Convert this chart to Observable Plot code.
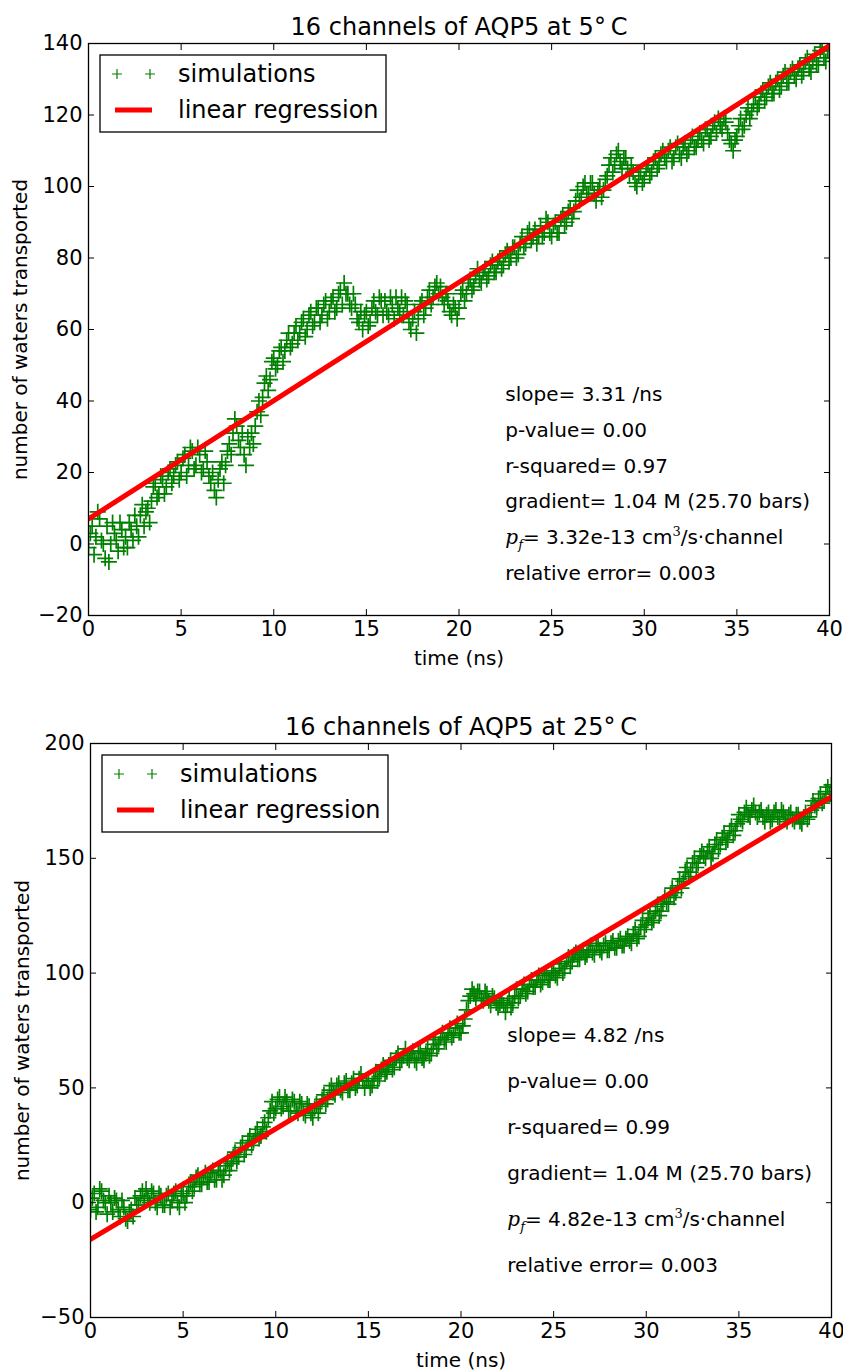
<!DOCTYPE html>
<html><head><meta charset="utf-8">
<script src="https://cdn.jsdelivr.net/npm/d3@7"></script>
<script src="https://cdn.jsdelivr.net/npm/@observablehq/plot@0.6"></script>
<style>
body{margin:0;background:#fff;width:843px;}
svg{display:block;}
</style></head><body><div id="c"></div>
<script>
// ---------- data ----------
const timeStep = 0.1; // ns between recorded samples
const sim5C = [
 -1,3,5,-3,2,9,7,1,0,-4, 5,-5,0,6,3,1,-2,6,4,-1, 2,-1,6,4,1,8,5,2,8,11, 5,9,10,6,12,16,17,13,14,19,
 18,14,16,20,21,17,19,22,23,18, 20,24,25,19,22,27,26,21,22,27, 25,20,21,26,23,19,17,20,15,13, 18,21,23,17,22,26,28,25,31,35,
 33,29,27,31,25,22,30,27,31,28, 33,37,40,36,41,45,47,43,46,51, 52,49,50,54,55,51,54,57,59,55, 56,59,61,57,59,62,63,58,60,64,
 65,61,62,66,66,62,64,67,68,63, 65,68,69,65,66,70,71,67,73,70, 70,67,66,70,67,63,62,65,60,64, 65,61,62,66,68,65,64,69,68,64,
 68,65,64,69,67,63,69,66,65,69, 64,68,67,62,60,63,65,59,63,67, 68,64,66,69,71,67,69,72,73,70, 72,69,67,70,68,65,64,67,66,63,
 66,70,71,68,70,73,74,71,72,75, 77,74,73,76,77,74,75,78,79,76, 76,79,80,77,78,81,82,79,80,83, 83,80,81,84,86,83,84,87,88,85,
 86,88,84,86,89,86,87,91,90,87, 86,89,90,87,87,91,92,89,90,93, 94,91,93,96,99,96,97,100,101,98, 98,101,101,98,96,99,100,97,99,102,
 103,106,108,104,106,109,110,107,105,108, 108,105,103,106,104,101,100,103,104,101, 102,105,106,103,104,107,108,105,106,109, 110,108,107,110,111,107,108,111,112,109,
 108,111,112,109,110,113,114,111,111,113, 115,113,112,116,116,113,114,117,118,115, 119,117,116,119,118,115,113,112,110,113, 114,117,119,116,117,120,122,119,121,123,
 125,122,123,126,127,124,125,128,129,126, 126,129,130,127,128,131,132,129,129,132, 133,131,130,133,134,131,132,135,136,133, 132,135,137,134,134,138,139,136,135,138,
 138
];
const sim25C = [
 -3,2,4,-4,-2,6,5,1,0,-5, 3,0,-4,2,1,-3,-6,1,-2,-7, -8,-4,-3,-6,2,-1,-1,3,5,1, 6,2,0,5,4,0,-2,4,3,-1,
 -1,3,4,-2,1,4,5,0,-2,3, 4,0,3,7,9,5,7,11,12,8, 8,11,13,9,9,13,14,10,10,14, 14,10,12,16,18,14,17,20,22,18,
 20,24,26,21,23,27,29,25,27,30, 32,28,29,33,35,31,37,40,44,39, 41,45,46,41,42,46,44,40,40,45, 44,40,39,44,43,39,38,43,42,39,
 37,41,43,39,42,45,47,43,45,49, 51,48,47,51,52,49,48,52,53,49, 49,52,54,50,51,54,56,53,50,53, 53,50,51,54,57,53,55,58,60,56,
 57,60,62,58,59,63,65,61,62,64, 67,63,62,65,66,62,61,65,66,63, 62,65,67,64,65,69,71,67,69,72, 74,71,70,74,76,72,73,76,78,74,
 74,77,80,84,88,90,93,91,89,92, 92,89,88,92,91,88,86,90,89,87, 85,87,88,86,83,86,89,85,87,90, 93,89,90,93,95,91,92,95,97,94,
 94,97,99,95,96,99,100,97,97,100, 101,99,98,102,104,100,102,105,107,103, 105,108,109,106,106,109,110,107,108,110, 112,109,108,112,113,110,109,112,113,110,
 110,113,114,111,111,114,115,112,112,115, 116,114,113,117,119,115,116,120,123,119, 121,124,126,122,123,127,129,125,127,130, 133,131,130,134,137,133,135,138,141,137,
 140,144,146,142,144,148,150,146,148,151, 153,151,150,153,155,150,152,156,158,154, 156,159,161,157,158,162,164,160,162,165, 169,167,166,170,172,169,168,171,173,170,
 168,170,171,168,166,169,170,166,167,170, 171,168,167,171,170,167,166,169,170,167, 166,169,169,166,165,168,170,167,168,171, 175,173,172,176,178,174,175,179,181,178,
 182
];
const regX = [0, 40];
const reg5C = [7.0, 139.4];
const reg25C = [-16.0, 176.8];
const titles = ["16 channels of AQP5 at 5°\u2009C", "16 channels of AQP5 at 25°\u2009C"];
const xLabel = "time (ns)";
const yLabel = "number of waters transported";
const legendLabels = ["simulations", "linear regression"];
const stats5C = ["slope= 3.31 /ns", "p-value= 0.00", "r-squared= 0.97", "gradient= 1.04 M (25.70 bars)", "pf= 3.32e-13 cm3/s·channel", "relative error= 0.003"];
const stats25C = ["slope= 4.82 /ns", "p-value= 0.00", "r-squared= 0.99", "gradient= 1.04 M (25.70 bars)", "pf= 4.82e-13 cm3/s·channel", "relative error= 0.003"];
const statsY5C = [40, 30, 20, 10, 0, -10];
const statsY25C = [70, 50, 30, 10, -10, -30];
const statsX = 22.5;
const xTicks = [0, 5, 10, 15, 20, 25, 30, 35, 40];
const yTicks5C = [-20, 0, 20, 40, 60, 80, 100, 120, 140];
const yTicks25C = [-50, 0, 50, 100, 150, 200];

// ---------- drawing ----------
const GREEN = "#008000", RED = "#ff0000";
const plusSymbol = {draw(ctx, size) {
  const r = Math.sqrt(size / Math.PI);
  ctx.moveTo(-r, 0); ctx.lineTo(r, 0); ctx.moveTo(0, -r); ctx.lineTo(0, r);
}};

function panel(o) {
  const data = o.series.map((v, i) => ({t: i * timeStep, n: v}));
  const svg = Plot.plot({
    width: 843, height: o.height,
    marginTop: o.mt, marginBottom: o.mb, marginLeft: o.ml, marginRight: o.mr,
    style: {fontFamily: "DejaVu Sans", fontSize: "20px", background: "white", color: "black", overflow: "visible"},
    x: {domain: [0, 40]},
    y: {domain: o.yDomain},
    marks: [
      Plot.dot(data, {x: "t", y: "n", symbol: plusSymbol, r: 8, stroke: GREEN, fill: "none", strokeWidth: 1.7, clip: true}),
      Plot.line(regX, {x: d => d, y: (d, i) => o.reg[i], stroke: RED, strokeWidth: 5, clip: true}),
      Plot.axisX({anchor: "bottom", ticks: xTicks, tickSize: -6, tickPadding: 12, label: null, fontSize: 21}),
      Plot.axisX({anchor: "top", ticks: xTicks, tickSize: -6, tickFormat: () => "", label: null}),
      Plot.axisY({anchor: "left", ticks: o.yTicks, tickSize: -6, tickPadding: 12, label: null, fontSize: 21}),
      Plot.axisY({anchor: "right", ticks: o.yTicks, tickSize: -6, tickFormat: () => "", label: null}),
      Plot.frame({stroke: "black", strokeWidth: 1.3}),
      Plot.text(o.stats, {x: statsX, y: (d, i) => o.statsY[i], text: d => d, textAnchor: "start", lineAnchor: "bottom", fontSize: 20}),
      Plot.text([o.title], {frameAnchor: "top", dy: -9, lineAnchor: "bottom", textAnchor: "middle", text: d => d, fontSize: 24}),
      Plot.text([xLabel], {frameAnchor: "bottom", dy: 43, lineAnchor: "middle", textAnchor: "middle", text: d => d, fontSize: 20}),
      Plot.text([yLabel], {frameAnchor: "left", dx: -68, rotate: -90, lineAnchor: "middle", textAnchor: "middle", text: d => d, fontSize: 20})
    ]
  });
  // mathtext-like p_f line
  d3.select(svg).selectAll("text").filter(function() { return this.textContent.startsWith("pf="); }).each(function() {
    const s = this.textContent.slice(3); // " x.xxe-13 cm3/s·channel"
    const [pre, post] = s.split("cm3");
    const t = d3.select(this); t.text(null);
    t.append("tspan").attr("font-family", "DejaVu Serif").attr("font-style", "italic").text("p");
    t.append("tspan").attr("font-family", "DejaVu Serif").attr("font-style", "italic").attr("font-size", "13").attr("dy", 5).text("f");
    t.append("tspan").attr("dy", -5).text("=" + pre + "cm");
    t.append("tspan").attr("font-family", "DejaVu Serif").attr("font-size", "13").attr("dy", -8).text("3");
    t.append("tspan").attr("dy", 8).text(post);
  });
  // legend
  const L = o.ml + 12, T = o.mt + 12;
  const g = d3.select(svg).append("g").attr("text-anchor", "start");
  g.append("rect").attr("x", L).attr("y", T).attr("width", 286).attr("height", 77)
    .attr("fill", "white").attr("stroke", "black").attr("stroke-width", 1.3);
  for (const mx of [L + 17, L + 50]) {
    g.append("path").attr("d", `M${mx - 5},${T + 19}h10M${mx},${T + 14}v10`)
      .attr("stroke", GREEN).attr("stroke-width", 1.2).attr("fill", "none");
  }
  g.append("line").attr("x1", L + 15).attr("x2", L + 52).attr("y1", T + 55).attr("y2", T + 55)
    .attr("stroke", RED).attr("stroke-width", 5);
  legendLabels.forEach((lab, i) => {
    g.append("text").attr("x", L + 78).attr("y", T + 19 + i * 36).attr("dy", "0.35em")
      .attr("text-anchor", "start").attr("font-size", 24).attr("fill", "black").text(lab);
  });
  return svg;
}

const c = document.getElementById("c");
c.append(panel({series: sim5C, reg: reg5C, yDomain: [-20, 140], yTicks: yTicks5C, stats: stats5C, statsY: statsY5C,
  title: titles[0], height: 700, mt: 43, mb: 85, ml: 88, mr: 14}));
c.append(panel({series: sim25C, reg: reg25C, yDomain: [-50, 200], yTicks: yTicks25C, stats: stats25C, statsY: statsY25C,
  title: titles[1], height: 672, mt: 43, mb: 55, ml: 90, mr: 12}));
</script></body></html>
